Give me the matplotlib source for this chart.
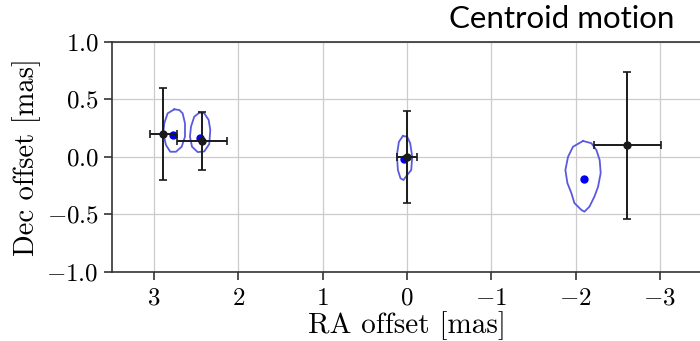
import numpy as np
import matplotlib
matplotlib.use("Agg")
import matplotlib.pyplot as plt

plt.rcParams["mathtext.fontset"] = "cm"
plt.rcParams["font.family"] = "serif"
plt.rcParams["font.serif"] = ["cmr10", "DejaVu Serif"]
plt.rcParams["axes.formatter.use_mathtext"] = True

# measured centroid offsets (black, with error bars)
ra_meas = [2.89, 2.43, 0.0, -2.615]
dec_meas = [0.20, 0.135, 0.0, 0.10]
ra_err = [0.16, 0.295, 0.12, 0.40]
dec_err = [0.40, 0.25, 0.40, 0.64]

# model centroid positions (blue)
ra_model = [2.773, 2.456, 0.03, -2.096]
dec_model = [0.191, 0.165, -0.023, -0.197]

# hand-traced contours around the model points
cont1_ra = [2.761, 2.840, 2.880, 2.892, 2.860, 2.809, 2.741, 2.673, 2.634, 2.634, 2.662, 2.702, 2.761]
cont1_dec = [0.412, 0.377, 0.290, 0.203, 0.102, 0.043, 0.043, 0.087, 0.174, 0.290, 0.377, 0.406, 0.412]
cont2_ra = [2.464, 2.524, 2.563, 2.575, 2.551, 2.483, 2.405, 2.346, 2.334, 2.353, 2.405, 2.464]
cont2_dec = [0.383, 0.348, 0.261, 0.174, 0.087, 0.040, 0.046, 0.110, 0.232, 0.319, 0.377, 0.383]
cont3_ra = [0.049, 0.096, 0.120, 0.108, 0.077, 0.042, -0.002, -0.050, -0.062, -0.038, -0.002, 0.049]
cont3_dec = [0.180, 0.130, 0.015, -0.116, -0.188, -0.203, -0.159, -0.116, 0.0, 0.117, 0.174, 0.180]
cont4_ra = [-2.089, -1.970, -1.911, -1.879, -1.903, -1.950, -1.986, -2.069, -2.105, -2.164,
            -2.223, -2.267, -2.298, -2.286, -2.247, -2.188, -2.089]
cont4_dec = [0.137, 0.087, 0.0, -0.116, -0.229, -0.316, -0.403, -0.463, -0.478, -0.435,
             -0.348, -0.261, -0.142, -0.029, 0.058, 0.117, 0.137]

contours = [(cont1_ra, cont1_dec), (cont2_ra, cont2_dec),
            (cont3_ra, cont3_dec), (cont4_ra, cont4_dec)]

fig = plt.figure(figsize=(7, 3.41), dpi=100)
ax = fig.add_axes([112 / 700, 69.3 / 341, 590 / 700, 230 / 341])

for cra, cdec in contours:
    ax.plot(cra, cdec, color="#5a5ae0", lw=1.3, zorder=2)

ax.plot(ra_model, dec_model, "o", color="#0000ee", ms=5, zorder=3)

ax.errorbar(ra_meas, dec_meas, xerr=ra_err, yerr=dec_err, fmt="o", color="#1a1a1a",
            ms=5, elinewidth=1.4, capsize=3, capthick=1.2, zorder=4)

ax.set_xlim(3.5, -3.5)
ax.set_ylim(-1.0, 1.0)
ax.set_xticks([3, 2, 1, 0, -1, -2, -3])
ax.set_yticks([-1.0, -0.5, 0.0, 0.5, 1.0])
ax.grid(True, color="#cccccc", lw=0.9)
ax.set_axisbelow(True)
ax.tick_params(labelsize=18, length=5.5, width=1.2, color="#333333")
ax.tick_params(axis="x", pad=6)
ax.tick_params(axis="y", pad=4)
for side in ["top", "left", "bottom"]:
    ax.spines[side].set_color("#333333")
    ax.spines[side].set_linewidth(1.2)
ax.spines["right"].set_visible(False)

ax.set_xlabel("RA offset [mas]", fontsize=21, labelpad=1)
ax.set_ylabel("Dec offset [mas]", fontsize=20.5, labelpad=4)

fig.text(0.964, 0.945, "Centroid motion", family=["Lato", "DejaVu Sans"],
         fontsize=22.5, ha="right", va="center")

fig.savefig("out.png", dpi=100)
